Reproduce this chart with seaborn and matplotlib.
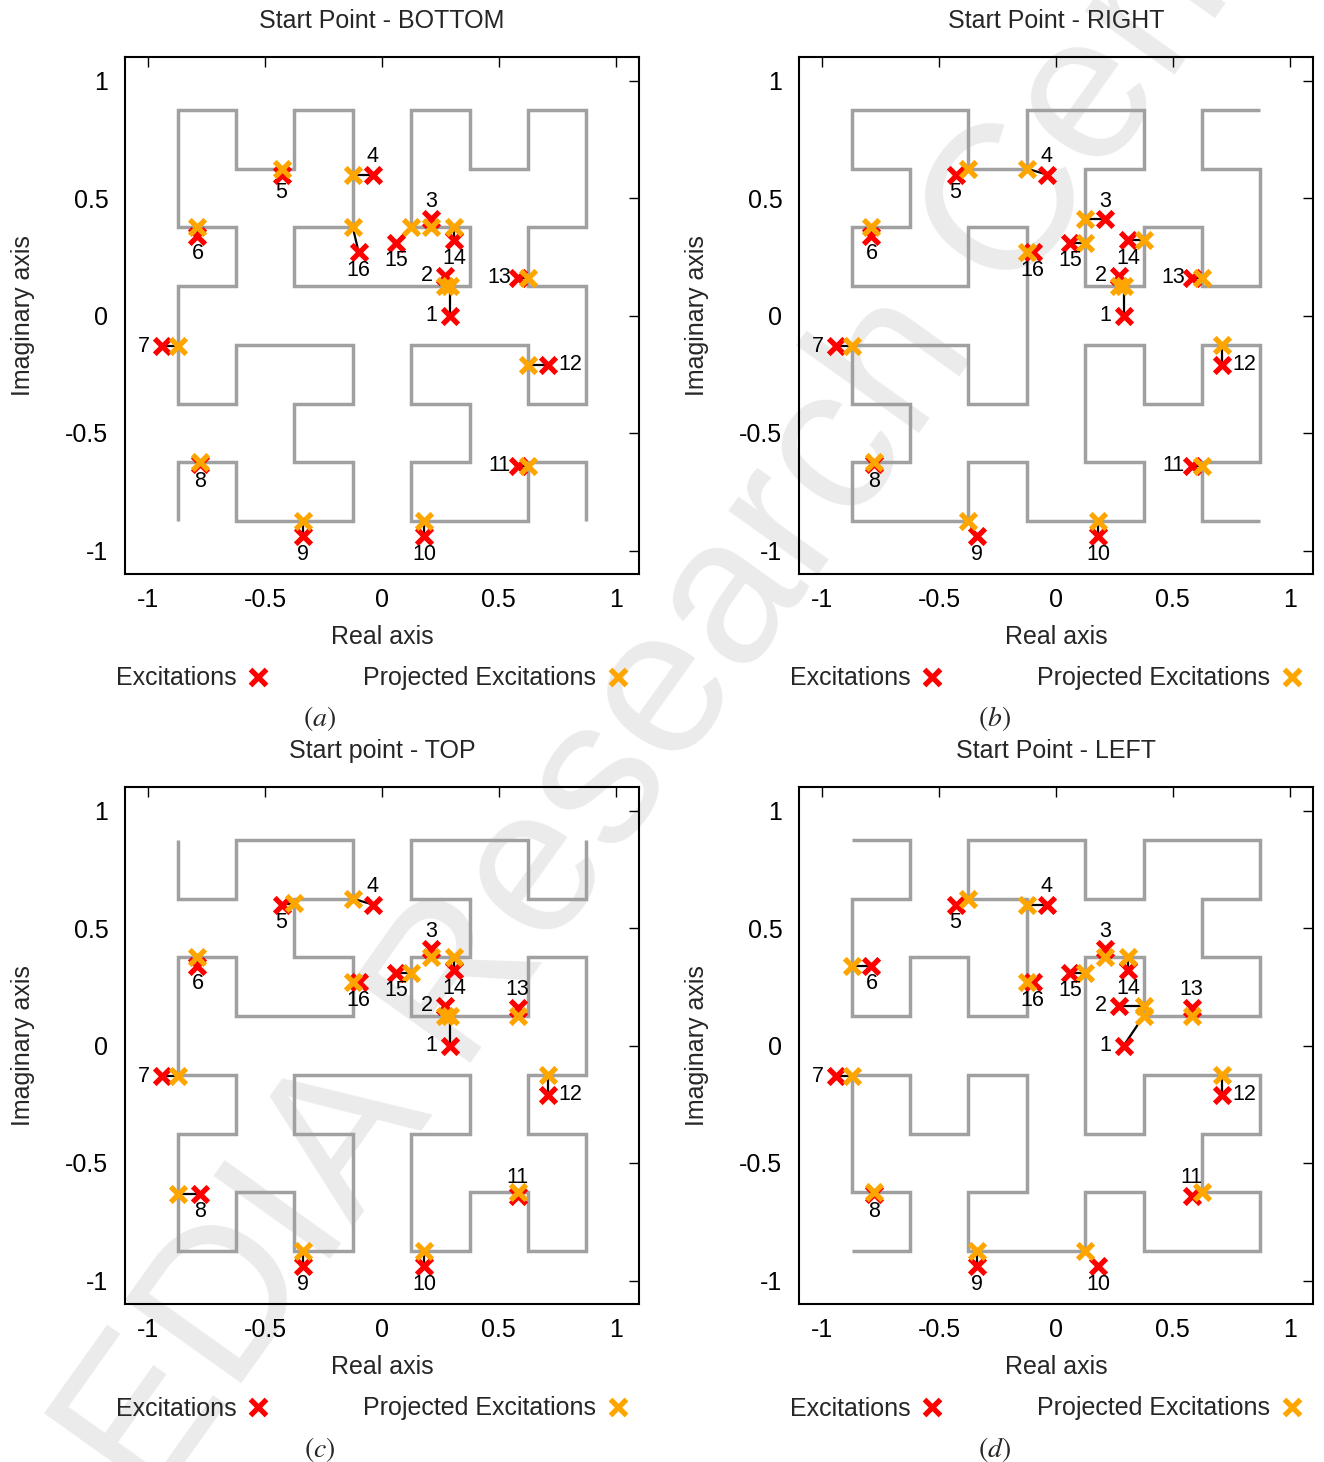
import numpy as np
import pandas as pd
import matplotlib
matplotlib.use("Agg")
import matplotlib.pyplot as plt
from matplotlib.lines import Line2D
import seaborn as sns

# ---------------------------------------------------------------- data
tick_values = [-1, -0.5, 0, 0.5, 1]
tick_labels = ["-1", "-0.5", "0", "0.5", "1"]

panel_titles = ["Start Point - BOTTOM", "Start Point - RIGHT",
                "Start point - TOP", "Start Point - LEFT"]
panel_tags = ["a", "b", "c", "d"]
legend_labels = ["Excitations", "Projected Excitations"]

# order-3 Hilbert curves on the 8x8 grid of cell centres: start cell + unit moves
grid_centres = [-0.875, -0.625, -0.375, -0.125, 0.125, 0.375, 0.625, 0.875]
curve_start = [(0, 0), (7, 0), (0, 7), (0, 7)]
curve_moves = [
    "URDRRULURULLDLU" "U" "RULUURDRURDDLDR" "R" "RULUURDRURDDLDR" "D" "DLULLDRDLDRRURD",
    "LURUULDLULDDRDL" "L" "ULDLLURULURRDRU" "U" "ULDLLURULURRDRU" "R" "RDLDDRURDRUULUR",
    "DRURRDLDRDLLULD" "D" "RDLDDRURDRUULUR" "R" "RDLDDRURDRUULUR" "U" "ULDLLURULURRDRU",
    "RDLDDRURDRUULUR" "R" "DRURRDLDRDLLULD" "D" "DRURRDLDRDLLULD" "L" "LURUULDLULDDRDL",
]

# the 16 excitations (same in every panel)
exc_re = [0.29, 0.27, 0.21, -0.04, -0.43, -0.79, -0.94, -0.78,
          -0.34, 0.18, 0.58, 0.71, 0.58, 0.31, 0.06, -0.10]
exc_im = [0.00, 0.17, 0.41, 0.60, 0.60, 0.34, -0.13, -0.63,
          -0.94, -0.94, -0.64, -0.21, 0.16, 0.32, 0.31, 0.27]

# their projections onto each curve
proj_re_bottom = [0.29, 0.27, 0.21, -0.125, -0.43, -0.79, -0.875, -0.78,
                  -0.34, 0.18, 0.625, 0.625, 0.625, 0.31, 0.125, -0.125]
proj_im_bottom = [0.125, 0.125, 0.375, 0.60, 0.625, 0.375, -0.13, -0.625,
                  -0.875, -0.875, -0.64, -0.21, 0.16, 0.375, 0.375, 0.375]

proj_re_right = [0.29, 0.27, 0.125, -0.125, -0.375, -0.79, -0.875, -0.78,
                 -0.375, 0.18, 0.625, 0.71, 0.625, 0.375, 0.125, -0.125]
proj_im_right = [0.125, 0.125, 0.41, 0.625, 0.625, 0.375, -0.13, -0.625,
                 -0.875, -0.875, -0.64, -0.125, 0.16, 0.32, 0.31, 0.27]

proj_re_top = [0.29, 0.27, 0.21, -0.125, -0.375, -0.79, -0.875, -0.875,
               -0.34, 0.18, 0.58, 0.71, 0.58, 0.31, 0.125, -0.125]
proj_im_top = [0.125, 0.125, 0.375, 0.625, 0.605, 0.375, -0.13, -0.63,
               -0.875, -0.875, -0.625, -0.125, 0.125, 0.375, 0.31, 0.27]

proj_re_left = [0.375, 0.375, 0.21, -0.125, -0.375, -0.875, -0.875, -0.78,
                -0.34, 0.125, 0.625, 0.71, 0.58, 0.31, 0.125, -0.125]
proj_im_left = [0.125, 0.17, 0.375, 0.60, 0.625, 0.34, -0.13, -0.625,
                -0.875, -0.875, -0.625, -0.125, 0.125, 0.375, 0.31, 0.27]

proj_re_all = [proj_re_bottom, proj_re_right, proj_re_top, proj_re_left]
proj_im_all = [proj_im_bottom, proj_im_right, proj_im_top, proj_im_left]

# ---------------------------------------------------------------- style
sns.set_theme(style="white")
plt.rcParams["font.family"] = ["Liberation Sans", "DejaVu Sans"]
plt.rcParams["axes.unicode_minus"] = False

RED = "#ff0000"
ORANGE = "#ffa500"
GREY = "#a0a0a0"

# label side for each point number, per panel
sides_ab = ["L", "L", "T", "T", "B", "B", "L", "B", "B", "B", "L", "R", "L", "B", "B", "B"]
sides_cd = ["L", "L", "T", "T", "B", "B", "L", "B", "B", "B", "T", "R", "T", "B", "B", "B"]
panel_sides = [sides_ab, sides_ab, sides_cd, sides_cd]
side_offset = {"L": (-13, 0), "R": (16, 0), "T": (0, 13), "B": (0, -13)}

STEP = {"U": (0, 1), "D": (0, -1), "L": (-1, 0), "R": (1, 0)}


def curve_frame(start, moves):
    i, j = start
    cells = [(i, j)]
    for m in moves:
        di, dj = STEP[m]
        i += di
        j += dj
        cells.append((i, j))
    return pd.DataFrame({
        "re": [grid_centres[c[0]] for c in cells],
        "im": [grid_centres[c[1]] for c in cells],
    })


W, H = 1324, 1462
AX_W, AX_H = 514, 517
boxes = [(125, 57), (799, 57), (125, 787), (799, 787)]

fig = plt.figure(figsize=(W / 100, H / 100), dpi=100)
fig.patch.set_facecolor("white")

MARK_S = 125
MARK_LW = 3.8

for k, (left, top) in enumerate(boxes):
    ax = fig.add_axes([left / W, 1 - (top + AX_H) / H, AX_W / W, AX_H / H])
    ax.set_facecolor("none")

    curve = curve_frame(curve_start[k], curve_moves[k])
    sns.lineplot(data=curve, x="re", y="im", sort=False, estimator=None,
                 color=GREY, linewidth=2.5, solid_joinstyle="miter",
                 solid_capstyle="butt", legend=False, ax=ax, zorder=1)

    pre, pim = proj_re_all[k], proj_im_all[k]
    for xr, yr, xp, yp in zip(exc_re, exc_im, pre, pim):
        ax.plot([xr, xp], [yr, yp], color="black", lw=1.6, zorder=2)

    sns.scatterplot(x=exc_re, y=exc_im, marker="x", color=RED, s=MARK_S,
                    linewidth=MARK_LW, ax=ax, zorder=3, legend=False)
    sns.scatterplot(x=pre, y=pim, marker="x", color=ORANGE, s=MARK_S,
                    linewidth=MARK_LW, ax=ax, zorder=4, legend=False)

    for n, (xr, yr) in enumerate(zip(exc_re, exc_im)):
        dx, dy = side_offset[panel_sides[k][n]]
        ax.annotate(str(n + 1), (xr, yr), xytext=(dx, dy),
                    textcoords="offset points", ha="center", va="center",
                    fontsize=15.5, color="black", zorder=6)

    ax.set_xlim(-1.1, 1.1)
    ax.set_ylim(-1.1, 1.1)
    ax.set_xticks(tick_values)
    ax.set_xticklabels(tick_labels)
    ax.set_yticks(tick_values)
    ax.set_yticklabels(tick_labels)
    ax.set_xlabel("")
    ax.set_ylabel("")
    ax.tick_params(direction="in", length=7, width=1.0, top=True, right=True,
                   labelsize=18, colors="black")
    ax.tick_params(axis="x", pad=10)
    ax.tick_params(axis="y", pad=12)
    for sp in ax.spines.values():
        sp.set_visible(True)
        sp.set_color("black")
        sp.set_linewidth(1.5)

    ax.text(0.5, 1 + 29 / AX_H, panel_titles[k], transform=ax.transAxes,
            ha="center", va="baseline", fontsize=18)
    ax.text(0.5, -70 / AX_H, "Real axis", transform=ax.transAxes,
            ha="center", va="baseline", fontsize=18)
    ax.text(-102 / AX_W, 0.5, "Imaginary axis", transform=ax.transAxes,
            ha="center", va="center", rotation=90, fontsize=18)

    handles = [
        Line2D([], [], linestyle="none", marker="x", color=RED,
               markersize=11, markeredgewidth=MARK_LW),
        Line2D([], [], linestyle="none", marker="x", color=ORANGE,
               markersize=11, markeredgewidth=MARK_LW),
    ]
    ax.legend(handles, legend_labels, loc="center left",
              bbox_to_anchor=(-9 / AX_W, -104.5 / AX_H), ncol=2,
              markerfirst=False, frameon=False, fontsize=18,
              handlelength=1.0, handletextpad=0.36, columnspacing=3.7,
              borderpad=0, borderaxespad=0)

    ax.text(195 / AX_W, -145 / AX_H, "$(" + panel_tags[k] + ")$",
            transform=ax.transAxes, ha="center", va="center", fontsize=20,
            math_fontfamily="stix")

# faint background lettering
fig.text(763 / W, 1 - 652 / H, "EDIA Research Center", fontsize=150,
         color="#ebebeb", rotation=54.5, rotation_mode="anchor",
         ha="center", va="baseline", zorder=-10)

fig.savefig("out.png", dpi=100, facecolor="white")
